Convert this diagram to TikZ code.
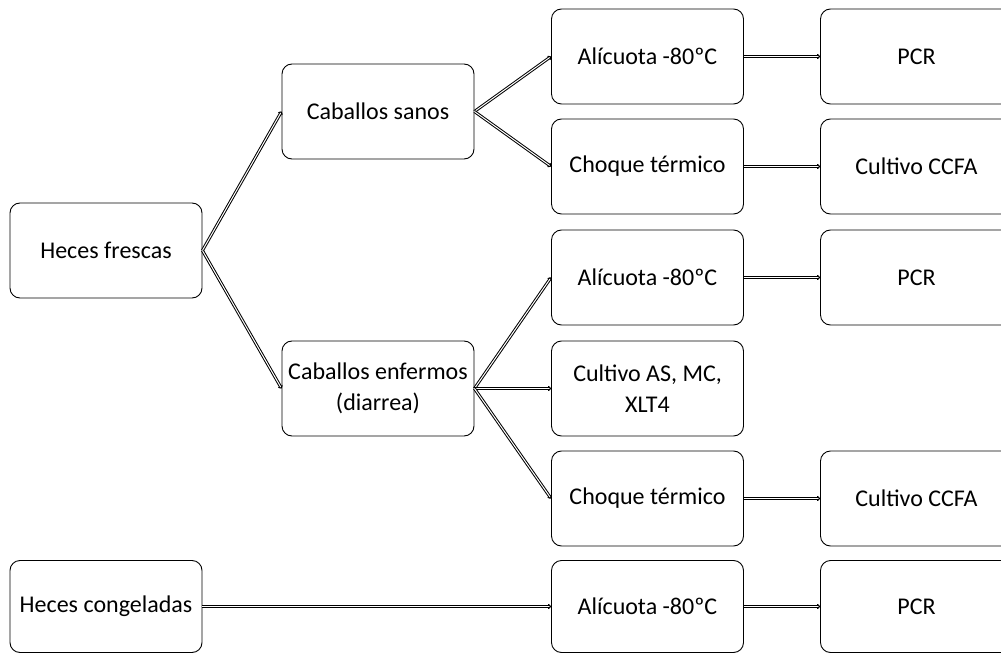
\documentclass[tikz,border=0pt]{standalone}
\usepackage{fontspec}
\setmainfont{Carlito}
\usetikzlibrary{arrows.meta}

\tikzset{
  caja/.style={draw, line width=0.9pt, rounded corners=10pt, minimum width=192pt,
    minimum height=95pt, align=center, font=\fontsize{24}{31}\selectfont},
  flecha/.style={double, line width=1pt, double distance=1pt, -{To[length=3pt,width=5pt]}}
}

\begin{document}
\begin{tikzpicture}[x=1pt,y=-1pt]
  \useasboundingbox (0,0) rectangle (1001,655);

  % columna izquierda
  \node[caja] (frescas) at (106,250.5) {Heces frescas};
  \node[caja, minimum height=92pt] (congeladas) at (106,606.5) {Heces congeladas};

  % caballos
  \node[caja] (sanos) at (378,111.5) {Caballos sanos};
  \node[caja] (enfermos) at (378,388.5) {Caballos enfermos\\(diarrea)};

  % tratamientos
  \node[caja] (alic1) at (647.5,56.5) {Alícuota -80ºC};
  \node[caja] (choque1) at (647.5,166.5) {Choque térmico};
  \node[caja] (alic2) at (647.5,277.5) {Alícuota -80ºC};
  \node[caja] (cultivo) at (647.5,388.5) {Cultivo AS, MC,\\XLT4};
  \node[caja] (choque2) at (647.5,498.5) {Choque térmico};
  \node[caja, minimum height=92pt] (alic3) at (647.5,606.5) {Alícuota -80ºC};

  % resultados
  \node[caja] (pcr1) at (916.5,56.5) {PCR};
  \node[caja] (ccfa1) at (916.5,166.5) {Cultivo CCFA};
  \node[caja] (pcr2) at (916.5,277.5) {PCR};
  \node[caja] (ccfa2) at (916.5,498.5) {Cultivo CCFA};
  \node[caja, minimum height=92pt] (pcr3) at (916.5,606.5) {PCR};

  \draw[flecha] (frescas.east) -- (sanos.west);
  \draw[flecha] (frescas.east) -- (enfermos.west);
  \draw[flecha] (sanos.east) -- (alic1.west);
  \draw[flecha] (sanos.east) -- (choque1.west);
  \draw[flecha] (enfermos.east) -- (alic2.west);
  \draw[flecha] (enfermos.east) -- (cultivo.west);
  \draw[flecha] (enfermos.east) -- (choque2.west);
  \draw[flecha] (congeladas.east) -- (alic3.west);
  \draw[flecha] (alic1.east) -- (pcr1.west);
  \draw[flecha] (choque1.east) -- (ccfa1.west);
  \draw[flecha] (alic2.east) -- (pcr2.west);
  \draw[flecha] (choque2.east) -- (ccfa2.west);
  \draw[flecha] (alic3.east) -- (pcr3.west);
\end{tikzpicture}
\end{document}
